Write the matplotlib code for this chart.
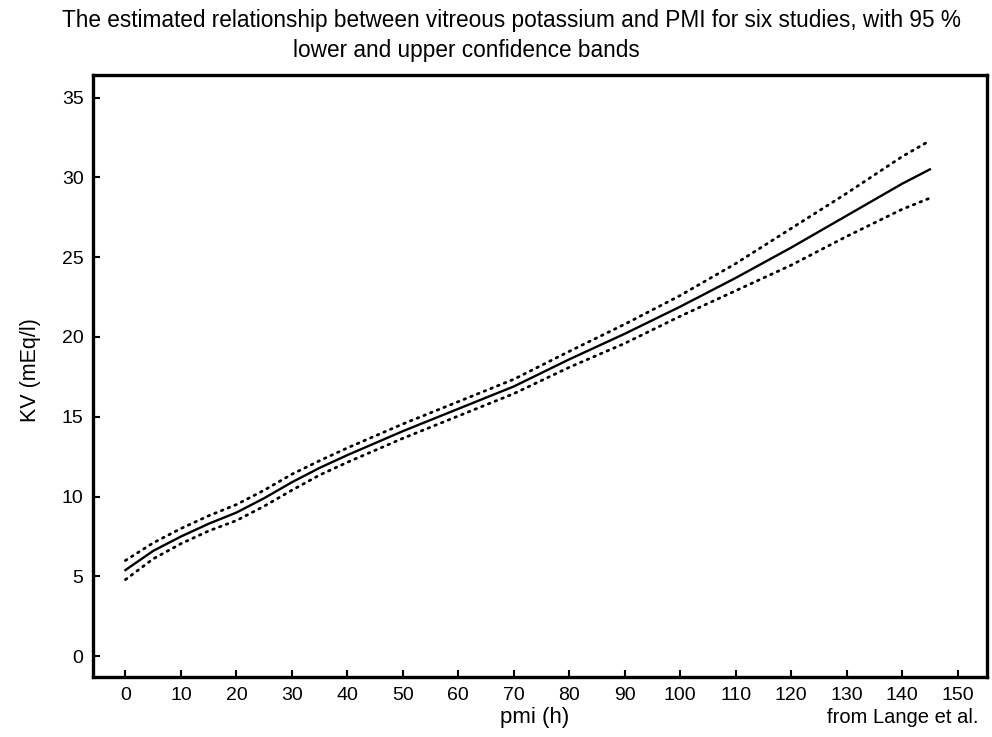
import matplotlib
matplotlib.use("Agg")
import matplotlib.pyplot as plt

plt.rcParams["font.family"] = ["Liberation Sans", "DejaVu Sans"]

# values
pmi = [0, 5, 10, 15, 20, 25, 30, 35, 40, 50, 60, 70, 80, 90, 100, 110, 120, 130, 140, 145]
kv_fit = [5.4, 6.6, 7.5, 8.3, 9.0, 9.9, 10.9, 11.8, 12.6, 14.1, 15.5, 16.9, 18.6, 20.2,
          21.9, 23.7, 25.6, 27.6, 29.6, 30.5]
kv_upper = [6.0, 7.1, 8.0, 8.8, 9.5, 10.4, 11.4, 12.25, 13.05, 14.55, 15.95, 17.35, 19.1,
            20.8, 22.6, 24.6, 26.8, 29.0, 31.3, 32.3]
kv_lower = [4.8, 6.1, 7.05, 7.85, 8.5, 9.4, 10.4, 11.35, 12.15, 13.65, 15.05, 16.45, 18.1,
            19.6, 21.3, 22.9, 24.5, 26.3, 28.0, 28.7]

x_ticks = list(range(0, 151, 10))
y_ticks = list(range(0, 36, 5))

fig = plt.figure(figsize=(9.92, 7.37), dpi=100)
ax = fig.add_axes([0.094, 0.0814, 0.901, 0.8166])

ax.plot(pmi, kv_fit, color="black", linewidth=1.7)
for band in (kv_upper, kv_lower):
    ax.plot(pmi, band, color="black", linewidth=2.0, linestyle=(0, (0.6, 2.0)),
            dash_capstyle="round")

ax.set_xlim(-5.8, 155.3)
ax.set_ylim(-1.3, 36.4)
ax.set_xticks(x_ticks)
ax.set_yticks(y_ticks)
ax.tick_params(direction="in", length=5, width=1.5, labelsize=14, pad=7)
for sp in ax.spines.values():
    sp.set_linewidth(2.4)

fig.text(0.031, 0.498, "KV (mEq/l)", rotation=90, ha="center", va="center", fontsize=15.5)
fig.text(0.539, 0.026, "pmi (h)", ha="center", va="center", fontsize=16)
fig.text(0.986, 0.026, "from Lange et al.", ha="right", va="center", fontsize=14.5)

fig.text(0.516, 0.972,
         "The estimated relationship between vitreous potassium and PMI for six studies, with 95 %",
         ha="center", va="center", fontsize=16.3)
fig.text(0.47, 0.931, "lower and upper confidence bands", ha="center", va="center", fontsize=16.3)

fig.savefig("out.png", dpi=100)
